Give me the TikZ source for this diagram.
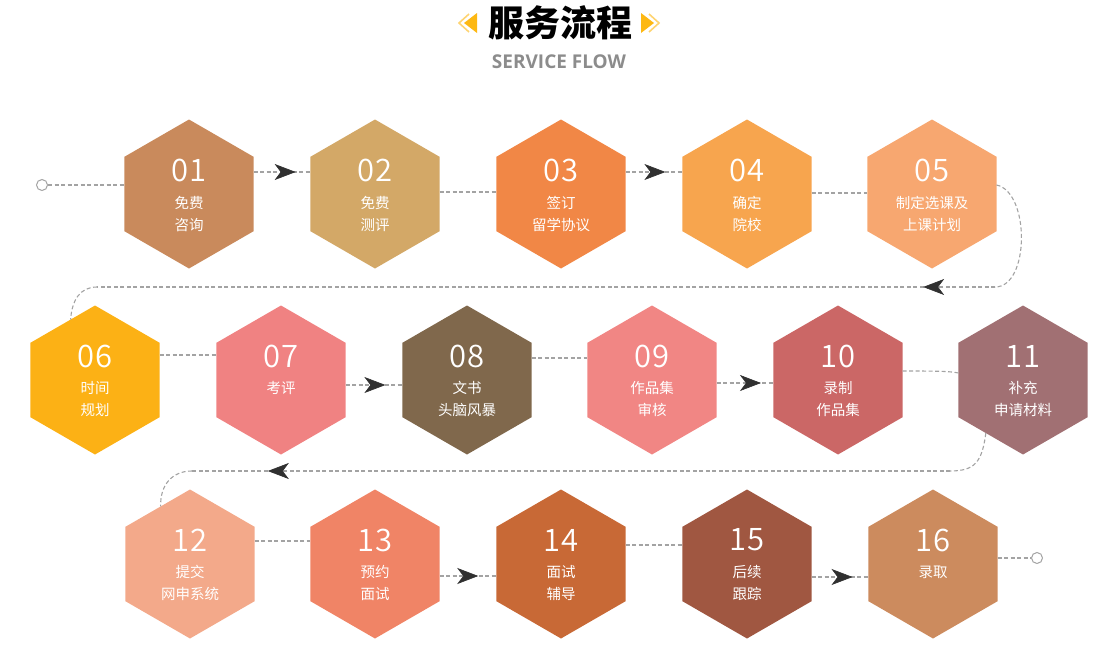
\documentclass[tikz,border=0pt]{standalone}
\usepackage{fontspec}
\setmainfont{Noto Sans CJK SC}
\newfontfamily\cjk{Noto Sans CJK SC}
\newfontfamily\numfont{Noto Sans CJK SC DemiLight}
\newfontfamily\sansb{Open Sans}
\usetikzlibrary{shapes.geometric,arrows.meta,decorations.markings,calc}
\definecolor{cA}{HTML}{C98A5C}
\definecolor{cB}{HTML}{D3A867}
\definecolor{cC}{HTML}{F18746}
\definecolor{cD}{HTML}{F7A54E}
\definecolor{cE}{HTML}{F7A770}
\definecolor{cF}{HTML}{FCB115}
\definecolor{cG}{HTML}{F08282}
\definecolor{cH}{HTML}{80684C}
\definecolor{cI}{HTML}{F18684}
\definecolor{cJ}{HTML}{CB6766}
\definecolor{cK}{HTML}{A17073}
\definecolor{cL}{HTML}{F3A98A}
\definecolor{cM}{HTML}{F08466}
\definecolor{cN}{HTML}{C86936}
\definecolor{cO}{HTML}{A05741}
\definecolor{cP}{HTML}{CC8B5E}
\definecolor{linegray}{HTML}{A3A3A3}
\definecolor{arrowgray}{HTML}{303030}
\definecolor{subgray}{HTML}{8C8C8C}
\definecolor{titleorange}{HTML}{FDB813}
\tikzset{
  hexa/.style={regular polygon, regular polygon sides=6, shape border rotate=30,
    minimum size=149pt, inner sep=0pt, outer sep=0pt, draw=none},
  numtxt/.style={text=white, font=\numfont\fontsize{31}{31}\selectfont, inner sep=0pt},
  lbl/.style={text=white, font=\cjk\fontsize{14.5}{22}\selectfont, align=center, inner sep=0pt},
  conn/.style={draw=linegray, line width=1.1pt, dash pattern=on 4pt off 2.5pt},
  arr/.style={postaction={decorate}, decoration={markings,
    mark=at position #1 with {\arrow[arrowgray, line width=0.6pt]{Stealth[length=21pt,width=16pt,inset=6pt]}}}},
  endpt/.style={circle, draw=linegray, fill=white, line width=1pt, minimum size=11pt, inner sep=0pt}
}
\begin{document}
\begin{tikzpicture}[x=1pt,y=-1pt]
\useasboundingbox (0,0) rectangle (1098,645);
% title
\node[font=\cjk\bfseries\fontsize{36}{36}\selectfont, inner sep=0pt] (title) at (560,23) {服务流程};
\node[font=\sansb\bfseries\fontsize{19}{19}\selectfont, text=subgray, inner sep=0pt] (sub) at (559,62) {SERVICE FLOW};
\fill[titleorange] (477,13) -- (464,23) -- (477,33) -- cycle;
\draw[titleorange!60, line width=1.6pt] (469,14) -- (459,23) -- (469,32);
\fill[titleorange] (641,13) -- (654,23) -- (641,33) -- cycle;
\draw[titleorange!60, line width=1.6pt] (649,14) -- (659,23) -- (649,32);

% hexagons
\foreach \n/\x/\y/\c in {1/189/194/cA,2/375/194/cB,3/561/194/cC,4/747/194/cD,5/932/194/cE,
  6/95/380/cF,7/281/380/cG,8/467/380/cH,9/652/380/cI,10/838/380/cJ,11/1023/380/cK,
  12/190/564/cL,13/375/564/cM,14/561/564/cN,15/747/564/cO,16/933/564/cP}{
  \node[hexa, fill=\c] (n\n) at (\x,\y) {};
}
% numbers
\foreach \n/\t in {1/01,2/02,3/03,4/04,5/05,6/06,7/07,8/08,9/09,10/10,11/11,12/12,13/13,14/14,15/15,16/16}{
  \node[numtxt] (d\n) at ([yshift=24pt]n\n.center) {\t};
}
% labels
\node[lbl] (t1) at ([yshift=-20pt]n1.center) {免费\\咨询};
\node[lbl] (t2) at ([yshift=-20pt]n2.center) {免费\\测评};
\node[lbl] (t3) at ([yshift=-20pt]n3.center) {签订\\留学协议};
\node[lbl] (t4) at ([yshift=-20pt]n4.center) {确定\\院校};
\node[lbl] (t5) at ([yshift=-20pt]n5.center) {制定选课及\\上课计划};
\node[lbl] (t6) at ([yshift=-19pt]n6.center) {时间\\规划};
\node[lbl] (t7) at ([yshift=-8pt]n7.center) {考评};
\node[lbl] (t8) at ([yshift=-19pt]n8.center) {文书\\头脑风暴};
\node[lbl] (t9) at ([yshift=-19pt]n9.center) {作品集\\审核};
\node[lbl] (t10) at ([yshift=-19pt]n10.center) {录制\\作品集};
\node[lbl] (t11) at ([yshift=-19pt]n11.center) {补充\\申请材料};
\node[lbl] (t12) at ([yshift=-19pt]n12.center) {提交\\网申系统};
\node[lbl] (t13) at ([yshift=-19pt]n13.center) {预约\\面试};
\node[lbl] (t14) at ([yshift=-19pt]n14.center) {面试\\辅导};
\node[lbl] (t15) at ([yshift=-19pt]n15.center) {后续\\跟踪};
\node[lbl] (t16) at ([yshift=-8pt]n16.center) {录取};

% end points
\node[endpt] (s) at (42,185) {};
\node[endpt] (e) at (1037,558) {};

% row 1 connectors
\draw[conn] (s) -- ([yshift=9pt]n1.west);
\draw[conn, arr=0.74] ([yshift=22pt]n1.east) -- ([yshift=22pt]n2.west);
\draw[conn] ([yshift=2pt]n2.east) -- ([yshift=2pt]n3.west);
\draw[conn, arr=0.7] ([yshift=22pt]n3.east) -- ([yshift=22pt]n4.west);
\draw[conn] ([yshift=1pt]n4.east) -- ([yshift=1pt]n5.west);
% 05 -> 06
\coordinate (r1) at (995,287);
\coordinate (r2) at (97,287);
\draw[conn] ([yshift=9pt]n5.east) .. controls (1030,192) and (1030,287) .. (r1);
\draw[conn, arr=0.08] (r1) -- (r2);
\draw[conn] (r2) .. controls (80,287) and (72,300) .. (n6.112);
% row 2 connectors
\draw[conn] ([yshift=25pt]n6.east) -- ([yshift=25pt]n7.west);
\draw[conn, arr=0.7] ([yshift=-5pt]n7.east) -- ([yshift=-5pt]n8.west);
\draw[conn] ([yshift=22pt]n8.east) -- ([yshift=22pt]n9.west);
\draw[conn, arr=0.78] ([yshift=-3pt]n9.east) -- ([yshift=-3pt]n10.west);
\draw[conn] ([yshift=9pt]n10.east) .. controls (930,371) and (950,371) .. ([yshift=7pt]n11.west);
% 11 -> 12
\coordinate (q1) at (950,471);
\coordinate (q2) at (192,471);
\draw[conn] (n11.235) .. controls (982,462) and (975,471) .. (q1);
\draw[conn, arr=0.9] (q1) -- (q2);
\draw[conn] (q2) .. controls (172,471) and (160,485) .. (n12.117);
% row 3 connectors
\draw[conn] ([yshift=23pt]n12.east) -- ([yshift=23pt]n13.west);
\draw[conn, arr=0.68] ([yshift=-12pt]n13.east) -- ([yshift=-12pt]n14.west);
\draw[conn] ([yshift=19pt]n14.east) -- ([yshift=19pt]n15.west);
\draw[conn, arr=0.72] ([yshift=-13pt]n15.east) -- ([yshift=-13pt]n16.west);
\draw[conn] ([yshift=6pt]n16.east) -- (e);
\end{tikzpicture}
\end{document}
